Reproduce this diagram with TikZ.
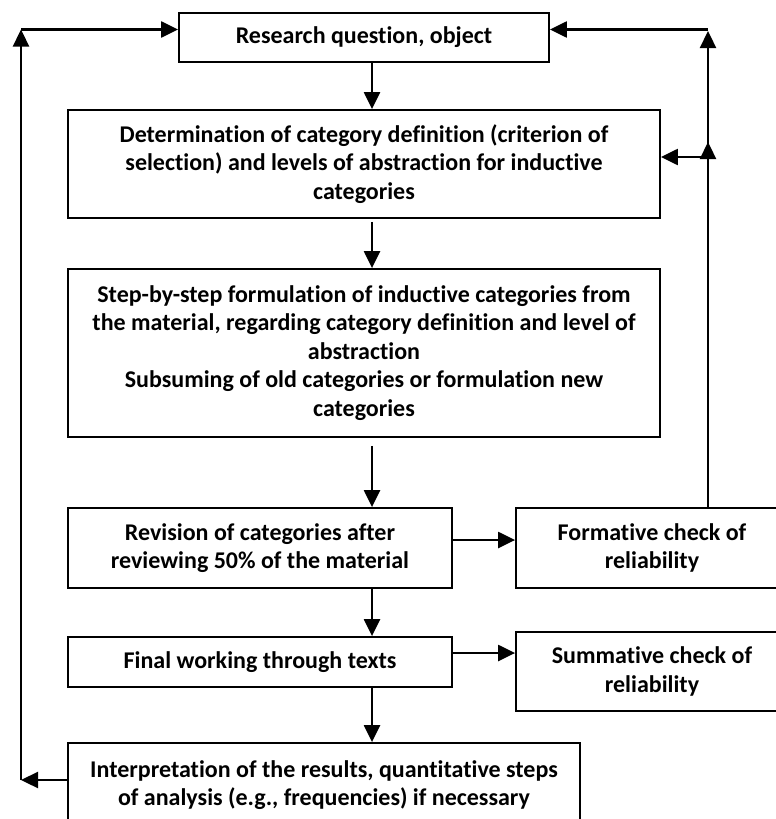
\documentclass[tikz,border=0pt]{standalone}
\usepackage{fontspec}
\setmainfont{Carlito}[Ligatures=CommonOff]
\usetikzlibrary{arrows.meta,calc}
\begin{document}
\begin{tikzpicture}[x=1pt,y=-1pt,
  box/.style={draw,line width=1.8pt,inner sep=0pt,align=center,
    font={\fontsize{24}{28.5}\selectfont\bfseries}},
  arr/.style={line width=2.3pt,-{Triangle[length=17pt,width=16pt]}}]
\useasboundingbox (0,0) rectangle (776,819);
\clip (0,0) rectangle (776,819);
\fill[white] (0,0) rectangle (776,819);
\node[box,minimum width=370pt,minimum height=49pt] (b1) at (364,37.5) {Research question, object};
\node[box,minimum width=592pt,minimum height=108pt] (b2) at (364,164) {Determination of category definition (criterion of\\selection) and levels of abstraction for inductive\\categories};
\node[box,minimum width=592pt,minimum height=168pt] (b3) at (364,353) {Step-by-step formulation of inductive categories from\\the material, regarding category definition and level of\\abstraction\\Subsuming of old categories or formulation new\\categories};
\node[box,minimum width=384pt,minimum height=80pt] (b4) at (260,548) {Revision of categories after\\reviewing 50\% of the material};
\node[box,minimum width=272pt,minimum height=80pt] (form) at (652,548) {Formative check of\\reliability};
\node[box,minimum width=384pt,minimum height=50pt] (b5) at (260,662) {Final working through texts};
\node[box,minimum width=272pt,minimum height=79pt] (sum) at (652,671.5) {Summative check of\\reliability};
\node[box,minimum width=512pt,minimum height=84pt] (b6) at (324,785) {Interpretation of the results, quantitative steps\\of analysis (e.g., frequencies) if necessary};
\coordinate (ax) at (372,0);
\coordinate (rx) at (708,0);
\coordinate (lx) at (21,0);
\coordinate (topy) at (0,29.5);
\coordinate (midy) at (0,157);
\coordinate (boty) at (0,780);
\coordinate (fy) at (0,540);
\coordinate (sy) at (0,653);
% main flow
\draw[arr] (b1.south -| ax) -- (b2.north -| ax);
\draw[arr,shorten <=3pt] (b2.south -| ax) -- (b3.north -| ax);
\draw[arr,shorten <=8pt] (b3.south -| ax) -- (b4.north -| ax);
\draw[arr] (b4.south -| ax) -- (b5.north -| ax);
\draw[arr] (b5.south -| ax) -- (b6.north -| ax);
\draw[arr] (b4.east |- fy) -- (form.west |- fy);
\draw[arr] (b5.east |- sy) -- (sum.west |- sy);
% right feedback
\coordinate (r1) at (rx |- midy);
\coordinate (r2) at (rx |- topy);
\draw[arr] (form.north -| rx) -- ($(r1)+(0,-15)$);
\draw[arr] (r1) -- (b2.east |- midy);
\draw[arr] (r1) -- ($(r2)+(0,1.5)$);
\draw[arr] (r2) -- (b1.east |- topy);
% left feedback
\coordinate (l1) at (lx |- boty);
\coordinate (l2) at (lx |- topy);
\draw[arr] (b6.west |- boty) -- (l1);
\draw[arr] (l1) -- (l2);
\draw[arr] (l2) -- (b1.west |- topy);
\end{tikzpicture}
\end{document}
